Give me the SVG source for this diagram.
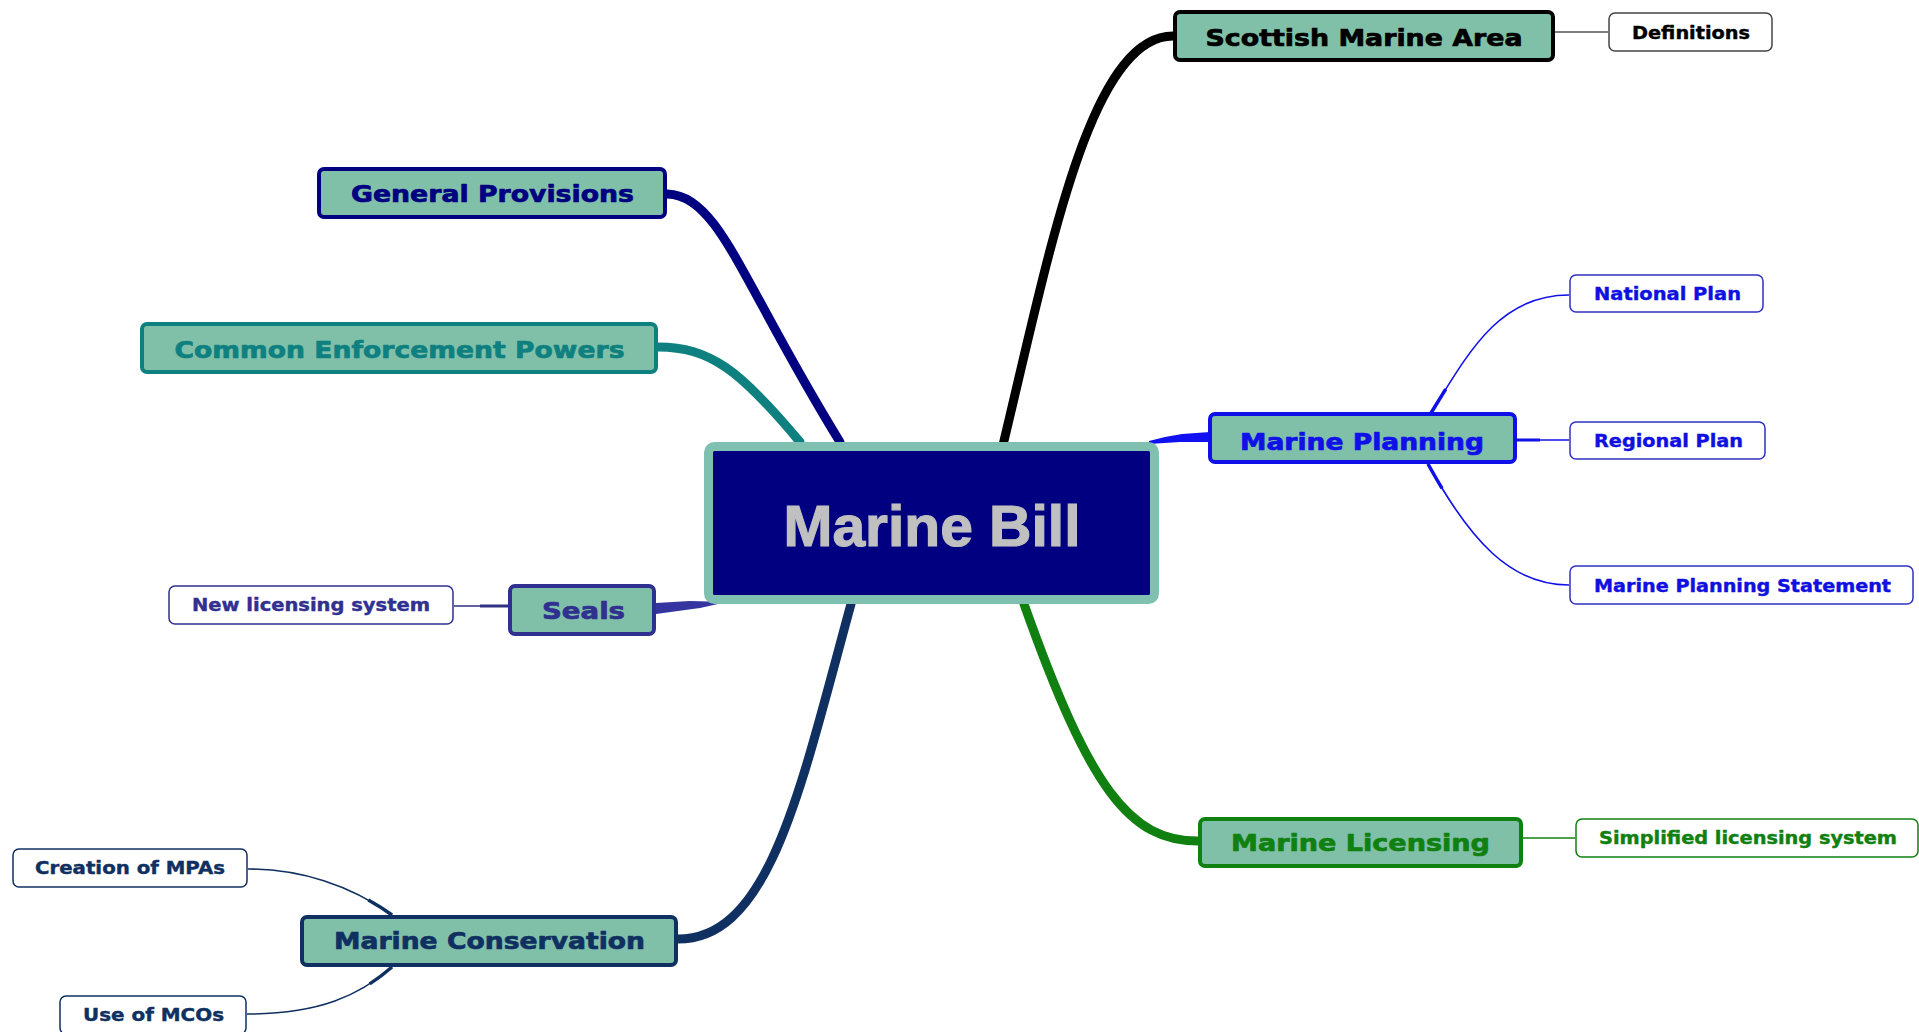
<svg xmlns="http://www.w3.org/2000/svg" width="1919" height="1032" viewBox="0 0 1919 1032">
<style>
.main{fill:#80c0a9;stroke-width:4}
.leaf{fill:#ffffff;stroke-width:1.5}
.mt{font-family:"DejaVu Sans","Liberation Sans",sans-serif;font-weight:bold;font-size:23px;text-anchor:middle;stroke-width:0.7;stroke-linejoin:round}
.lt{font-family:"DejaVu Sans","Liberation Sans",sans-serif;font-weight:bold;font-size:17px;text-anchor:middle;stroke-width:0.4;stroke-linejoin:round}
.thick{fill:none;stroke-width:9;stroke-linecap:round}
.thin{fill:none;stroke-width:1.6}
.taper{fill:none;stroke-width:3.5;stroke-dasharray:28 2000}
</style>
<rect width="1919" height="1032" fill="#ffffff"/>
<g id="connectors">
  <path class="thick" d="M1003,445 C1050,250 1090,36 1173,36" stroke="#000000"/>
  <path class="thick" d="M667,194 C720,196 740,280 840,442" stroke="#000080"/>
  <path class="thick" d="M658,347 C710,347 740,370 800,442" stroke="#0f8080"/>
  <path d="M1149,441 L1165,437 L1182,434 L1210,432 L1210,442 L1180,442 L1149,444 Z" fill="#1010f0"/>
  <path d="M656,603 L690,601 L727,602 L700,608 L656,614 Z" fill="#3535a0"/>
  <path class="thick" d="M1024,604 C1090,790 1130,841 1198,841" stroke="#108010" stroke-width="10"/>
  <path class="thick" d="M851,604 C800,790 770,939 678,939" stroke="#0f3060"/>
  <line class="thin" x1="1555" y1="32" x2="1608" y2="32" stroke="#555555"/>
  <path class="thin" d="M1431,413 C1470,350 1500,295 1569,295" stroke="#1010e8"/>
  <path class="taper" d="M1431,413 C1470,350 1500,295 1569,295" stroke="#1010e8"/>
  <line class="thin" x1="1517" y1="440" x2="1569" y2="440" stroke="#1010e8"/>
  <line x1="1517" y1="440" x2="1540" y2="440" stroke="#1010e8" stroke-width="3"/>
  <path class="thin" d="M1428,464 C1470,540 1510,585 1569,585" stroke="#1010e8"/>
  <path class="taper" d="M1428,464 C1470,540 1510,585 1569,585" stroke="#1010e8"/>
  <line class="thin" x1="1523" y1="838" x2="1575" y2="838" stroke="#108010"/>
  <line class="thin" x1="454" y1="606" x2="508" y2="606" stroke="#303080"/>
  <line x1="480" y1="606" x2="508" y2="606" stroke="#303080" stroke-width="3"/>
  <path class="thin" d="M392,915 C350,885 300,869 248,869" stroke="#0f3060"/>
  <path class="taper" d="M392,915 C350,885 300,869 248,869" stroke="#0f3060"/>
  <path class="thin" d="M392,967 C360,995 320,1014 247,1014" stroke="#0f3060"/>
  <path class="taper" d="M392,967 C360,995 320,1014 247,1014" stroke="#0f3060"/>
</g>
<g id="node-center">
  <rect x="708.5" y="446.5" width="446" height="153" rx="6" fill="#000080" stroke="#80c0b0" stroke-width="9"/>
  <text x="932" y="546" font-family="Liberation Sans, Arial, sans-serif" font-weight="bold" font-size="58" fill="#c0c0c0" stroke="#c0c0c0" stroke-width="1.2" text-anchor="middle" textLength="297" lengthAdjust="spacingAndGlyphs">Marine Bill</text>
</g>
<g id="node-sma">
  <rect class="main" x="1175" y="12" width="378" height="48" rx="5" stroke="#000000"/>
  <text class="mt" x="1364" y="46" fill="#000000" stroke="#000000" textLength="317" lengthAdjust="spacingAndGlyphs">Scottish Marine Area</text>
</g>
<g id="node-definitions">
  <rect class="leaf" x="1609" y="13" width="163" height="38" rx="6" stroke="#444444"/>
  <text class="lt" x="1691" y="39" fill="#000000" stroke="#000000" textLength="118" lengthAdjust="spacingAndGlyphs">Definitions</text>
</g>
<g id="node-gp">
  <rect class="main" x="319" y="169" width="346" height="48" rx="5" stroke="#000080"/>
  <text class="mt" x="492.5" y="202" fill="#000080" stroke="#000080" textLength="283" lengthAdjust="spacingAndGlyphs">General Provisions</text>
</g>
<g id="node-cep">
  <rect class="main" x="142" y="324" width="514" height="48" rx="5" stroke="#0f8080"/>
  <text class="mt" x="399.5" y="358" fill="#0f8080" stroke="#0f8080" textLength="450" lengthAdjust="spacingAndGlyphs">Common Enforcement Powers</text>
</g>
<g id="node-mp">
  <rect class="main" x="1210" y="414" width="305" height="48" rx="5" stroke="#1010e8"/>
  <text class="mt" x="1362" y="450" fill="#1010e8" stroke="#1010e8" textLength="244" lengthAdjust="spacingAndGlyphs">Marine Planning</text>
</g>
<g id="node-national">
  <rect class="leaf" x="1570" y="275" width="193" height="37" rx="6" stroke="#3030c0"/>
  <text class="lt" x="1667.5" y="300" fill="#1010e0" stroke="#1010e0" textLength="147" lengthAdjust="spacingAndGlyphs">National Plan</text>
</g>
<g id="node-regional">
  <rect class="leaf" x="1570" y="422" width="195" height="37" rx="6" stroke="#3030c0"/>
  <text class="lt" x="1668.5" y="447" fill="#1010e0" stroke="#1010e0" textLength="149" lengthAdjust="spacingAndGlyphs">Regional Plan</text>
</g>
<g id="node-mps">
  <rect class="leaf" x="1570" y="566" width="343" height="38" rx="6" stroke="#3030c0"/>
  <text class="lt" x="1742.5" y="592" fill="#1010e0" stroke="#1010e0" textLength="297" lengthAdjust="spacingAndGlyphs">Marine Planning Statement</text>
</g>
<g id="node-ml">
  <rect class="main" x="1200" y="819" width="321" height="47" rx="5" stroke="#108010"/>
  <text class="mt" x="1360.5" y="851" fill="#108010" stroke="#108010" textLength="259" lengthAdjust="spacingAndGlyphs">Marine Licensing</text>
</g>
<g id="node-sls">
  <rect class="leaf" x="1576" y="819" width="342" height="38" rx="6" stroke="#108010"/>
  <text class="lt" x="1748" y="844" fill="#108010" stroke="#108010" textLength="298" lengthAdjust="spacingAndGlyphs">Simplified licensing system</text>
</g>
<g id="node-seals">
  <rect class="main" x="510" y="586" width="144" height="48" rx="5" stroke="#303090"/>
  <text class="mt" x="583.5" y="619" fill="#303090" stroke="#303090" textLength="83" lengthAdjust="spacingAndGlyphs">Seals</text>
</g>
<g id="node-nls">
  <rect class="leaf" x="169" y="586" width="284" height="38" rx="6" stroke="#303090"/>
  <text class="lt" x="311" y="611" fill="#303090" stroke="#303090" textLength="238" lengthAdjust="spacingAndGlyphs">New licensing system</text>
</g>
<g id="node-mc">
  <rect class="main" x="302" y="917" width="374" height="48" rx="5" stroke="#0f3060"/>
  <text class="mt" x="489.5" y="949" fill="#0f3060" stroke="#0f3060" textLength="311" lengthAdjust="spacingAndGlyphs">Marine Conservation</text>
</g>
<g id="node-mpas">
  <rect class="leaf" x="13" y="849" width="234" height="38" rx="6" stroke="#0f3060"/>
  <text class="lt" x="130" y="874" fill="#0f3060" stroke="#0f3060" textLength="190" lengthAdjust="spacingAndGlyphs">Creation of MPAs</text>
</g>
<g id="node-mcos">
  <rect class="leaf" x="60" y="996" width="186" height="38" rx="6" stroke="#0f3060"/>
  <text class="lt" x="153.5" y="1021" fill="#0f3060" stroke="#0f3060" textLength="141" lengthAdjust="spacingAndGlyphs">Use of MCOs</text>
</g>
</svg>
